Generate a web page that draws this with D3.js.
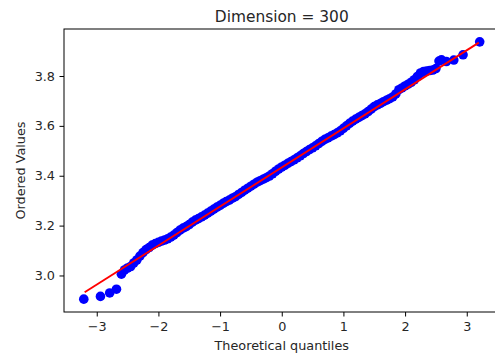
<!DOCTYPE html>
<html>
<head>
<meta charset="utf-8">
<script src="https://cdn.jsdelivr.net/npm/d3@7"></script>
<style>
  body { margin: 0; background: #fff; }
  svg text { font-family: "DejaVu Sans", sans-serif; fill: #262626; }
</style>
</head>
<body>
<svg width="495" height="358"></svg>
<script>
// theoretical quantiles and ordered values
const quantiles = [-3.21, -2.94, -2.79, -2.68, -2.60,
  -2.55, -2.50, -2.45, -2.40, -2.35, -2.30, -2.25, -2.20, -2.15, -2.10, -2.05, -2.00,
  -1.95, -1.90, -1.85, -1.80, -1.75, -1.70, -1.65, -1.60, -1.55, -1.50, -1.45, -1.40,
  -1.35, -1.30, -1.25, -1.20, -1.15, -1.10, -1.05, -1.00, -0.95, -0.90, -0.85, -0.80,
  -0.75, -0.70, -0.65, -0.60, -0.55, -0.50, -0.45, -0.40, -0.35, -0.30, -0.25, -0.20,
  -0.15, -0.10, -0.05, 0.00, 0.05, 0.10, 0.15, 0.20, 0.25, 0.30, 0.35, 0.40,
  0.45, 0.50, 0.55, 0.60, 0.65, 0.70, 0.75, 0.80, 0.85, 0.90, 0.95, 1.00,
  1.05, 1.10, 1.15, 1.20, 1.25, 1.30, 1.35, 1.40, 1.45, 1.50, 1.55, 1.60,
  1.65, 1.70, 1.75, 1.80, 1.85, 1.90, 1.95, 2.00, 2.05, 2.10, 2.15, 2.20,
  2.25, 2.30, 2.35, 2.40, 2.45, 2.50, 2.55, 2.59, 2.67, 2.79, 2.94, 3.21];
const orderedValues = [2.905, 2.916, 2.930, 2.945, 3.005,
  3.022, 3.030, 3.036, 3.050, 3.062, 3.078, 3.092, 3.104, 3.112, 3.122, 3.128, 3.133,
  3.138, 3.142, 3.147, 3.154, 3.162, 3.172, 3.182, 3.190, 3.196, 3.204, 3.214, 3.222,
  3.228, 3.235, 3.242, 3.250, 3.258, 3.266, 3.274, 3.281, 3.289, 3.296, 3.302, 3.310,
  3.316, 3.325, 3.333, 3.342, 3.350, 3.358, 3.366, 3.374, 3.380, 3.386, 3.392, 3.399,
  3.408, 3.418, 3.427, 3.435, 3.442, 3.450, 3.457, 3.464, 3.472, 3.480, 3.489, 3.497,
  3.505, 3.512, 3.520, 3.529, 3.538, 3.546, 3.552, 3.559, 3.565, 3.572, 3.580, 3.590,
  3.600, 3.610, 3.619, 3.627, 3.634, 3.641, 3.648, 3.657, 3.667, 3.677, 3.684, 3.690,
  3.697, 3.703, 3.709, 3.716, 3.728, 3.745, 3.752, 3.760, 3.767, 3.775, 3.785, 3.798,
  3.812, 3.818, 3.820, 3.822, 3.824, 3.830, 3.860, 3.865, 3.858, 3.864, 3.885, 3.937];
// fitted line end points
const fitQ = [-3.196, 3.196];
const fitV = [2.933, 3.934];
const xTicks = [-3, -2, -1, 0, 1, 2, 3];
const yTicks = [3.0, 3.2, 3.4, 3.6, 3.8];

const margin = { top: 29, right: -4.5, bottom: 46, left: 64 },
      width = 495 - margin.left - margin.right,
      height = 358 - margin.top - margin.bottom;

const svg = d3.select("svg");
const g = svg.append("g")
  .attr("transform", `translate(${margin.left},${margin.top})`);

const x = d3.scaleLinear().domain([-3.531, 3.531]).range([0, width]);
const y = d3.scaleLinear().domain([2.8535, 3.9885]).range([height, 0]);

const pts = quantiles.map((q, i) => ({ q, v: orderedValues[i] }));

g.selectAll("circle")
  .data(pts)
  .enter()
  .append("circle")
  .attr("cx", d => x(d.q))
  .attr("cy", d => y(d.v))
  .attr("r", 4.8)
  .attr("fill", "#0000ff");

g.append("path")
  .datum(fitQ.map((q, i) => ({ q, v: fitV[i] })))
  .attr("fill", "none")
  .attr("stroke", "#ff0000")
  .attr("stroke-width", 1.9)
  .attr("d", d3.line().x(d => x(d.q)).y(d => y(d.v)));

const xAxis = g.append("g")
  .attr("transform", `translate(0,${height})`)
  .call(d3.axisBottom(x).tickValues(xTicks).tickSize(4.5).tickPadding(5)
    .tickFormat(d => d < 0 ? "\u2212" + Math.abs(d) : d));
const yAxis = g.append("g")
  .call(d3.axisLeft(y).tickValues(yTicks).tickSize(4.5).tickPadding(4.5)
    .tickFormat(d3.format(".1f")));

[xAxis, yAxis].forEach(a => {
  a.select(".domain").remove();
  a.selectAll("line").attr("stroke", "#000").attr("stroke-width", 1);
  a.selectAll("text").attr("font-size", 12.8).attr("fill", "#262626")
    .attr("font-family", "DejaVu Sans, sans-serif");
});

// spines
g.append("rect")
  .attr("x", 0).attr("y", 0)
  .attr("width", width).attr("height", height)
  .attr("fill", "none")
  .attr("stroke", "#000")
  .attr("stroke-width", 1);

svg.append("text")
  .attr("x", margin.left + width / 2)
  .attr("y", 22)
  .attr("text-anchor", "middle")
  .attr("font-size", 15.4)
  .text("Dimension = 300");

svg.append("text")
  .attr("x", margin.left + width / 2)
  .attr("y", 350)
  .attr("text-anchor", "middle")
  .attr("font-size", 12.8)
  .text("Theoretical quantiles");

svg.append("text")
  .attr("transform", `translate(25,${margin.top + height / 2}) rotate(-90)`)
  .attr("text-anchor", "middle")
  .attr("font-size", 12.8)
  .text("Ordered Values");
</script>
</body>
</html>
